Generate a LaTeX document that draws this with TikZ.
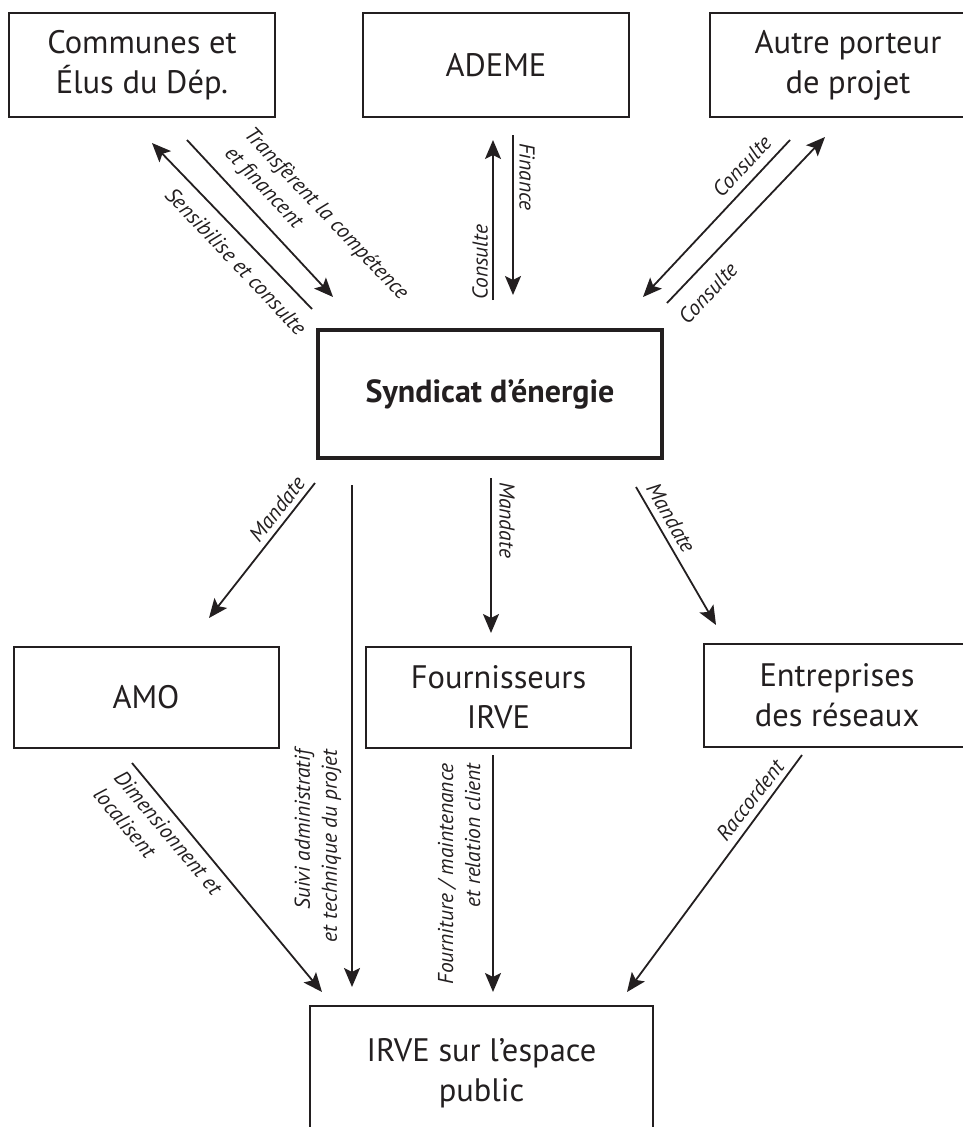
\documentclass[tikz,border=0pt]{standalone}
\usepackage{fontspec}
\setmainfont{PT Sans}
\usetikzlibrary{arrows.meta}
\definecolor{ink}{HTML}{231F20}
\begin{document}
\begin{tikzpicture}[x=1pt,y=-1pt,
  box/.style={draw=ink, line width=2pt, inner sep=0pt, text=ink, align=center,
              font=\fontsize{32.5}{40}\selectfont},
  mainbox/.style={box, line width=4pt, font=\fontsize{32}{40}\selectfont\bfseries},
  arr/.style={draw=ink, line width=1.8pt, -{Stealth[length=19pt,width=16pt,inset=4pt]}},
  lbl/.style={font=\fontsize{21.5}{27}\selectfont\itshape, text=ink, inner sep=0pt},
]
\useasboundingbox (0,0) rectangle (963,1127);
\clip (0,0) rectangle (963,1127);

% boxes
\node[box, minimum width=266pt, minimum height=104pt] (communes) at (142,65) {Communes et\\Élus du Dép.};
\node[box, minimum width=266pt, minimum height=104pt] (ademe) at (496,65) {ADEME};
\node[box, minimum width=276pt, minimum height=104pt] (autre) at (848,65) {Autre porteur\\de projet};
\node[mainbox, minimum width=344pt, minimum height=128pt] (syndicat) at (490,394) {Syndicat d’énergie};
\node[box, minimum width=265pt, minimum height=101pt] (amo) at (146,697.5) {AMO};
\node[box, minimum width=265pt, minimum height=101pt] (fourn) at (498.5,697.5) {Fournisseurs\\IRVE};
\node[box, minimum width=266pt, minimum height=103pt] (entr) at (837,695.5) {Entreprises\\des réseaux};
\node[box, minimum width=343pt, minimum height=134pt] (irve) at (481.5,1073) {IRVE sur l’espace\\public};

% connector end points
\coordinate (a1s) at (187,140); \coordinate (a1e) at (333,297);
\coordinate (a2s) at (312,309); \coordinate (a2e) at (152,143);
\coordinate (a3s) at (493,300); \coordinate (a3e) at (493,140);
\coordinate (a4s) at (513,135); \coordinate (a4e) at (513,295);
\coordinate (a5s) at (790,140); \coordinate (a5e) at (643,297);
\coordinate (a6s) at (667,303); \coordinate (a6e) at (825,137);
\coordinate (a7s) at (315,483); \coordinate (a7e) at (209,618);
\coordinate (a8s) at (352,485); \coordinate (a8e) at (352,987);
\coordinate (a9s) at (491,478); \coordinate (a9e) at (491,633);
\coordinate (a10s) at (636,487); \coordinate (a10e) at (716,625);
\coordinate (a11s) at (132,763); \coordinate (a11e) at (322,992);
\coordinate (a12s) at (493,755); \coordinate (a12e) at (493,992);
\coordinate (a13s) at (802,755); \coordinate (a13e) at (627,992);

\foreach \i in {1,...,13} \draw[arr] (a\i s) -- (a\i e);

% labels
\node[lbl, align=left, rotate=-46.5] (l1) at (316,224) {Transfèrent la compétence\\et financent};
\node[lbl, rotate=-46.5] (l2) at (236,261) {Sensibilise et consulte};
\node[lbl, rotate=-90] (l3) at (527,177) {Finance};
\node[lbl, rotate=90] (l4) at (480,262) {Consulte};
\node[lbl, rotate=47] (l5) at (742,166) {Consulte};
\node[lbl, rotate=47] (l6) at (708,293) {Consulte};
\node[lbl, rotate=52] (l7) at (277,509) {Mandate};
\node[lbl, rotate=-90] (l8) at (507,520) {Mandate};
\node[lbl, rotate=-60] (l9) at (671,518) {Mandate};
\node[lbl, align=left, rotate=-50] (l10) at (158,841) {Dimensionnent et\\localisent};
\node[lbl, align=right, rotate=90] (l11) at (318,846) {Suivi administratif\\et technique du projet};
\node[lbl, align=right, rotate=90] (l12) at (459,874) {Fourniture / maintenance\\et relation client};
\node[lbl, rotate=52] (l13) at (750,800) {Raccordent};
\end{tikzpicture}
\end{document}
